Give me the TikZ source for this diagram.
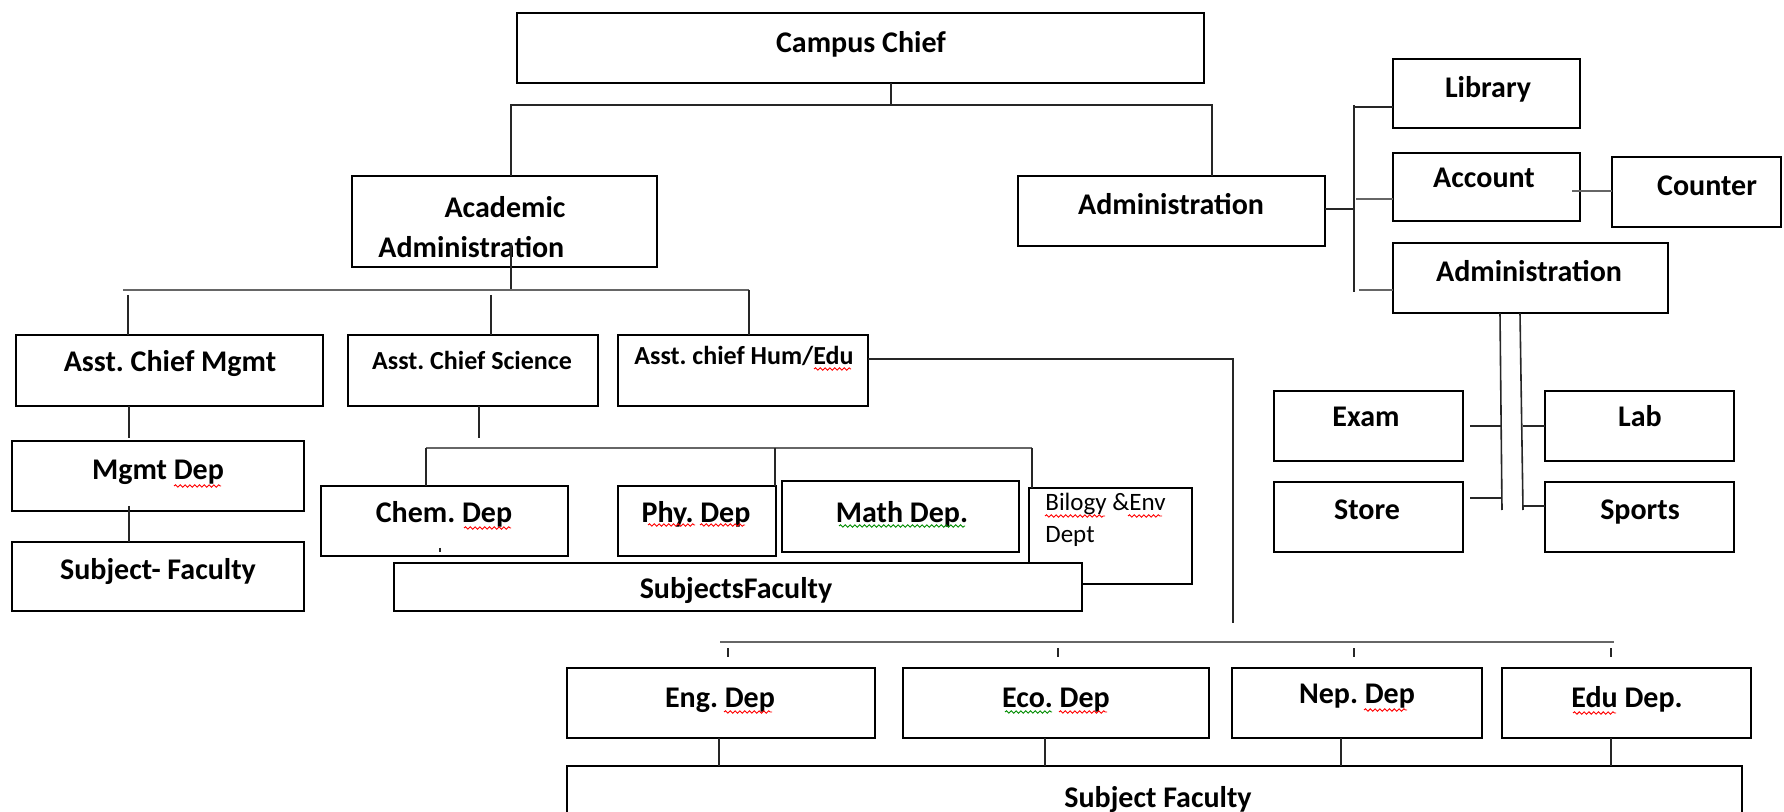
\documentclass[tikz,border=0pt]{standalone}
\usepackage{fontspec}
\setmainfont{Carlito}
\usetikzlibrary{decorations.pathmorphing}
\frenchspacing
\tikzset{
 box/.style={draw=black, line width=1.2pt, fill=white, rectangle, inner sep=0pt, outer sep=0pt},
 lbl/.style={font=\fontsize{15}{18}\selectfont\bfseries, inner sep=0pt, anchor=base},
 slbl/.style={font=\fontsize{13}{15}\selectfont\bfseries, inner sep=0pt, anchor=base},
 tlbl/.style={font=\fontsize{12.5}{15}\selectfont, inner sep=0pt, anchor=base west},
 conn/.style={line width=0.8pt, black!85},
 gconn/.style={line width=1.4pt, black!60},
 squigr/.style={red, line width=0.45pt, decorate, decoration={snake, amplitude=0.6pt, segment length=2.4pt}},
 squigg/.style={green!55!black, line width=0.45pt, decorate, decoration={snake, amplitude=0.6pt, segment length=2.4pt}},
}
\newcommand\pbox[5]{\node[box, minimum width={(#4-#2)*0.5pt}, minimum height={(#5-#3)*0.5pt}] (#1) at ({(#2+#4)/2},{(#3+#5)/2}) {};}
\begin{document}
\begin{tikzpicture}[x=0.5pt,y=-0.5pt]
\clip (0,0) rectangle (1784,812);
\fill[white] (0,0) rectangle (1784,812);
% boxes
\pbox{campus}{517}{13}{1204}{83}
\pbox{acad}{352}{176}{657}{267}
\pbox{admin}{1018}{176}{1325}{246}
\pbox{lib}{1393}{59}{1580}{128}
\pbox{acc}{1393}{153}{1580}{221}
\pbox{counter}{1612}{157}{1781}{227}
\pbox{adm2}{1393}{243}{1668}{313}
\pbox{amgmt}{16}{335}{323}{406}
\pbox{asci}{348}{335}{598}{406}
\pbox{ahum}{618}{335}{868}{406}
\pbox{exam}{1274}{391}{1463}{461}
\pbox{lab}{1545}{391}{1734}{461}
\pbox{store}{1274}{482}{1463}{552}
\pbox{sports}{1545}{482}{1734}{552}
\pbox{mgmtdep}{12}{441}{304}{511}
\pbox{subjfac}{12}{542}{304}{611}
\pbox{chem}{321}{486}{568}{556}
\pbox{phy}{618}{486}{776}{556}
\pbox{math}{782}{481}{1019}{552}
\pbox{bio}{1029}{488}{1192}{584}
\pbox{sfac}{394}{563}{1082}{611}
\pbox{eng}{567}{668}{875}{738}
\pbox{eco}{903}{668}{1209}{738}
\pbox{nep}{1232}{668}{1482}{738}
\pbox{edu}{1502}{668}{1751}{738}
\pbox{sfac2}{567}{766}{1742}{840}
% labels
\node[lbl] (tcampus) at (861,53) {Campus Chief};
\node[lbl] (tacad1) at (505,218) {Academic};
\node[lbl, anchor=base west] (tacad2) at (378,258) {Administration};
\node[lbl] (tadmin) at (1171,215) {Administration};
\node[lbl] (tlib) at (1488,98) {Library};
\node[lbl] (tacc) at (1484,188) {Account};
\node[lbl] (tcounter) at (1707,196) {Counter};
\node[lbl] (tadm2) at (1529,282) {Administration};
\node[lbl] (tamgmt) at (170,372) {Asst. Chief Mgmt};
\node[slbl] (tasci) at (472,370) {Asst. Chief Science};
\node[slbl] (tahum) at (744,365) {Asst. chief Hum/Edu};
\node[lbl] (texam) at (1366,427) {Exam};
\node[lbl] (tlab) at (1640,427) {Lab};
\node[lbl] (tstore) at (1367,520) {Store};
\node[lbl] (tsports) at (1640,520) {Sports};
\node[lbl] (tmgmtdep) at (158,480) {Mgmt Dep};
\node[lbl] (tsubjfac) at (158,580) {Subject- Faculty};
\node[lbl] (tchem) at (444,523) {Chem. Dep};
\node[lbl] (tphy) at (696,523) {Phy. Dep};
\node[lbl] (tmath) at (902,523) {Math Dep.};
\node[tlbl] (tbio1) at (1045,511) {Bilogy \&Env};
\node[tlbl] (tbio2) at (1045,543) {Dept};
\node[lbl] (tsfac) at (736,598) {SubjectsFaculty};
\node[lbl] (teng) at (720,707) {Eng. Dep};
\node[lbl] (teco) at (1056,707) {Eco. Dep};
\node[lbl] (tnep) at (1357,703) {Nep. Dep};
\node[lbl] (tedu) at (1627,707) {Edu Dep.};
\node[lbl] (tsfac2) at (1158,807) {Subject Faculty};
% spell-check squiggles
\draw[squigr] (174,486) -- (221,486);
\draw[squigr] (464,528) -- (511,528);
\draw[squigr] (648,525) -- (695,525);
\draw[squigr] (700,525) -- (745,525);
\draw[squigg] (839,526) -- (965,526);
\draw[squigr] (1045,516) -- (1105,516);
\draw[squigr] (1128,516) -- (1162,516);
\draw[squigr] (724,712) -- (772,712);
\draw[squigg] (1005,712) -- (1052,712);
\draw[squigr] (1059,712) -- (1107,712);
\draw[squigr] (1364,710) -- (1407,710);
\draw[squigr] (1573,713) -- (1616,713);
\draw[squigr] (814,369) -- (851,369);
% connectors: top
\draw[conn] (891,0 |- campus.south) -- (891,105) coordinate (jtop);
\draw[conn] (511,0 |- acad.north) |- (1212,105) -- (1212,0 |- admin.north);
% academic bus
\coordinate (abus) at (511,290);
\draw[conn] (511,0 |- acad.south) ++(0,-24) -- (abus);
\draw[gconn] (123,290) -- (749,290);
\draw[conn] (128,295) -- (128,0 |- amgmt.north);
\draw[conn] (491,295) -- (491,0 |- asci.north);
\draw[conn] (749,290) -- (749,0 |- ahum.north);
% hum/edu line
\draw[conn] (ahum.east |- 0,359) -- (1233,359) -- (1233,623) coordinate (humend);
% admin side
\draw[conn] (admin.east |- 0,209) -- (1354,209);
\draw[conn] (1354,105) -- (1354,292);
\draw[conn] (1354,107) -- (lib.west |- 0,107);
\draw[gconn] (1356,199) -- (acc.west |- 0,199);
\draw[gconn] (1359,290) -- (adm2.west |- 0,290);
\draw[gconn] (1572,191) -- (counter.west |- 0,191);
% admin2 down
\draw[conn] (1500,0 |- adm2.south) -- (1502,510);
\draw[conn] (1520,0 |- adm2.south) -- (1523,510);
\draw[conn] (1470,426) -- (1502,426);
\draw[conn] (1470,498) -- (1502,498);
\draw[conn] (1523,426) -- (lab.west |- 0,426);
\draw[conn] (1523,506) -- (sports.west |- 0,506);
% mgmt chain
\draw[conn] (129,0 |- amgmt.south) -- (129,438);
\draw[conn] (129,506) -- (129,0 |- subjfac.north);
% science chain
\draw[conn] (479,0 |- asci.south) -- (479,438);
\draw[gconn] (426,448) -- (1032,448);
\draw[conn] (426,448) -- (426,0 |- chem.north);
\draw[conn] (775,448) -- (775,0 |- phy.north);
\draw[conn] (1032,448) -- (1032,0 |- bio.north);
\draw[conn] (440,548) -- (440,552);
% bottom bus
\draw[gconn] (720,642) -- (1614,642);
\foreach \tx in {728,1058,1354,1611} \draw[conn] (\tx,648) -- (\tx,657);
\draw[conn] (719,0 |- eng.south) -- (719,0 |- sfac2.north);
\draw[conn] (1045,0 |- eco.south) -- (1045,0 |- sfac2.north);
\draw[conn] (1341,0 |- nep.south) -- (1341,0 |- sfac2.north);
\draw[conn] (1611,0 |- edu.south) -- (1611,0 |- sfac2.north);
\end{tikzpicture}
\end{document}
